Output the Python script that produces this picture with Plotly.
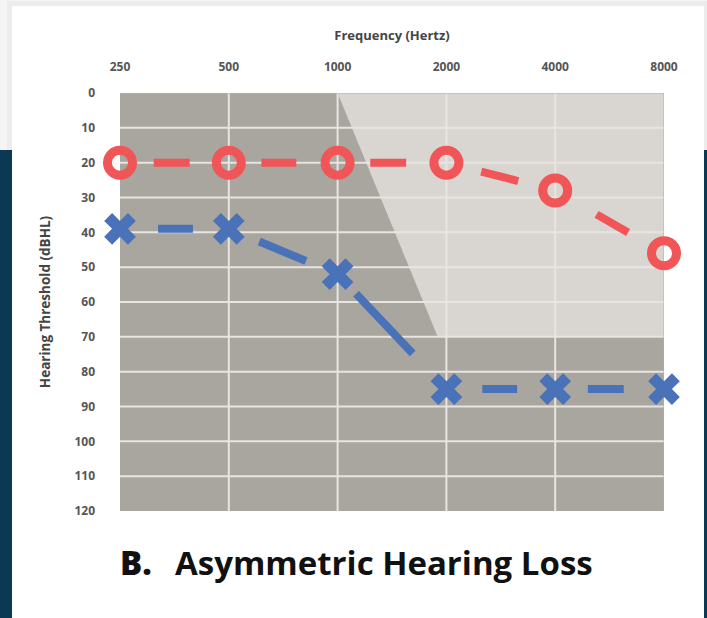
import plotly.graph_objects as go

# ---------------- data ----------------
freq_labels = ["250", "500", "1000", "2000", "4000", "8000"]
freq_index = [0, 1, 2, 3, 4, 5]
right_ear_db = [20, 20, 20, 20, 28, 46]      # red O
left_ear_db = [39, 39, 52, 85, 85, 85]       # blue X
db_ticks = [0, 10, 20, 30, 40, 50, 60, 70, 80, 90, 100, 110, 120]
# light "normal hearing" zone (frequency index, dB)
zone_x = [2, 5, 5, 2.92]
zone_y = [0, 0, 70, 70]

# ---------------- style ----------------
W, H = 707, 618
PL, PR, PT, PB = 120, 664, 93, 511   # plot area in px
RED = "#F05557"
BLUE = "#4A72B9"
DARK = "#A9A59F"
LIGHT = "#D9D6D2"
GRID = "#E8E5E1"
NAVY = "#0B3954"
FONT = "Open Sans"
red_dash = [(0.31, 0.64), (0.30, 0.62), (0.30, 0.63), (0.32, 0.66), (0.38, 0.67)]
blue_dash = [(0.35, 0.67), (0.28, 0.71), (0.17, 0.69), (0.33, 0.65), (0.30, 0.63)]


def px(x):
    return (x - PL) / (PR - PL)


def py(y):
    return (PB - y) / (PB - PT)


def dash_segments(xs, ys, fracs):
    ox, oy = [], []
    for i in range(len(xs) - 1):
        a, b = fracs[i]
        x0, x1, y0, y1 = xs[i], xs[i + 1], ys[i], ys[i + 1]
        ox += [x0 + a * (x1 - x0), x0 + b * (x1 - x0), None]
        oy += [y0 + a * (y1 - y0), y0 + b * (y1 - y0), None]
    return ox, oy


fig = go.Figure()

rx, ry = dash_segments(freq_index, right_ear_db, red_dash)
bx, by = dash_segments(freq_index, left_ear_db, blue_dash)

fig.add_trace(go.Scatter(x=rx, y=ry, mode="lines", line=dict(color=RED, width=8),
                         hoverinfo="skip", showlegend=False))
fig.add_trace(go.Scatter(x=bx, y=by, mode="lines", line=dict(color=BLUE, width=8),
                         hoverinfo="skip", showlegend=False))
fig.add_trace(go.Scatter(x=freq_index, y=right_ear_db, mode="markers", name="Right ear",
                         marker=dict(symbol="circle-open", size=25, color=RED,
                                     line=dict(width=9, color=RED)),
                         cliponaxis=False, showlegend=False))
fig.add_trace(go.Scatter(x=freq_index, y=left_ear_db, mode="markers", name="Left ear",
                         marker=dict(symbol="x", size=28, color=BLUE, line=dict(width=0)),
                         cliponaxis=False, showlegend=False))

shapes = []
# page background pieces (paper coords)
shapes.append(dict(type="rect", xref="paper", yref="paper", x0=px(0), x1=px(W), y0=py(0), y1=py(150),
                   fillcolor="#F4F4F4", line_width=0, layer="below"))
shapes.append(dict(type="rect", xref="paper", yref="paper", x0=px(0), x1=px(12), y0=py(150), y1=py(H),
                   fillcolor=NAVY, line_width=0, layer="below"))
shapes.append(dict(type="rect", xref="paper", yref="paper", x0=px(704), x1=px(W), y0=py(150), y1=py(H),
                   fillcolor=NAVY, line_width=0, layer="below"))
shapes.append(dict(type="rect", xref="paper", yref="paper", x0=px(7), x1=px(707), y0=py(1), y1=py(150),
                   fillcolor="rgba(0,0,0,0.03)", line_width=0, layer="below"))
shapes.append(dict(type="rect", xref="paper", yref="paper", x0=px(12), x1=px(704), y0=py(6), y1=py(H),
                   fillcolor="#FFFFFF", line_width=0, layer="below"))
# plot shading (data coords)
shapes.append(dict(type="rect", xref="x", yref="y", x0=freq_index[0], x1=freq_index[-1],
                   y0=db_ticks[0], y1=db_ticks[-1], fillcolor=DARK, line_width=0, layer="below"))
path = "M " + " L ".join(f"{x},{y}" for x, y in zip(zone_x, zone_y)) + " Z"
shapes.append(dict(type="path", xref="x", yref="y", path=path, fillcolor=LIGHT,
                   line_width=0, layer="below"))
# interior gridlines
for xv in freq_index[1:-1]:
    shapes.append(dict(type="line", xref="x", yref="y", x0=xv, x1=xv, y0=db_ticks[0], y1=db_ticks[-1],
                       line=dict(color=GRID, width=2), layer="below"))
for yv in db_ticks[1:-1]:
    shapes.append(dict(type="line", xref="x", yref="y", x0=freq_index[0], x1=freq_index[-1], y0=yv, y1=yv,
                       line=dict(color=GRID, width=2), layer="below"))
# thin border top/right
shapes.append(dict(type="line", xref="x", yref="y", x0=freq_index[0], x1=freq_index[-1],
                   y0=db_ticks[0], y1=db_ticks[0], line=dict(color="#B3AFAA", width=1), layer="below"))
shapes.append(dict(type="line", xref="x", yref="y", x0=freq_index[-1], x1=freq_index[-1],
                   y0=db_ticks[0], y1=db_ticks[-1], line=dict(color="#B3AFAA", width=1), layer="below"))

annotations = [
    dict(text="B.", xref="paper", yref="paper", x=px(118), y=py(562), xanchor="left",
         yanchor="middle", showarrow=False,
         font=dict(family=FONT, size=33, weight=800, color="#111111")),
    dict(text="Asymmetric Hearing Loss", xref="paper", yref="paper", x=px(173), y=py(562),
         xanchor="left", yanchor="middle", showarrow=False,
         font=dict(family=FONT, size=33, weight=700, color="#111111")),
]

fig.update_layout(
    width=W, height=H,
    margin=dict(l=PL, r=W - PR, t=PT, b=H - PB, pad=0),
    paper_bgcolor="#FFFFFF", plot_bgcolor=DARK,
    shapes=shapes, annotations=annotations,
    font=dict(family=FONT, color="#555555"),
    xaxis=dict(range=[freq_index[0], freq_index[-1]], side="top", tickvals=freq_index,
               ticktext=freq_labels, showgrid=False, zeroline=False,
               ticks="", ticklabelstandoff=19,
               tickfont=dict(family=FONT, size=12, weight=700, color="#555555"),
               title=dict(text="Frequency (Hertz)",
                          font=dict(family=FONT, size=13, weight=700, color="#444444"), standoff=14),
               fixedrange=True),
    yaxis=dict(range=[db_ticks[-1], db_ticks[0]], tickvals=db_ticks,
               ticktext=[str(t) for t in db_ticks], showgrid=False, zeroline=False,
               ticks="", ticklabelstandoff=24,
               tickfont=dict(family=FONT, size=12, weight=700, color="#555555"),
               title=dict(text="Hearing Threshold (dBHL)",
                          font=dict(family=FONT, size=13.5, weight=700, color="#444444"),
                          standoff=20),
               fixedrange=True),
)

fig.write_html("out.html", config={"displayModeBar": False},
               post_script="document.body.style.margin='0px';")
